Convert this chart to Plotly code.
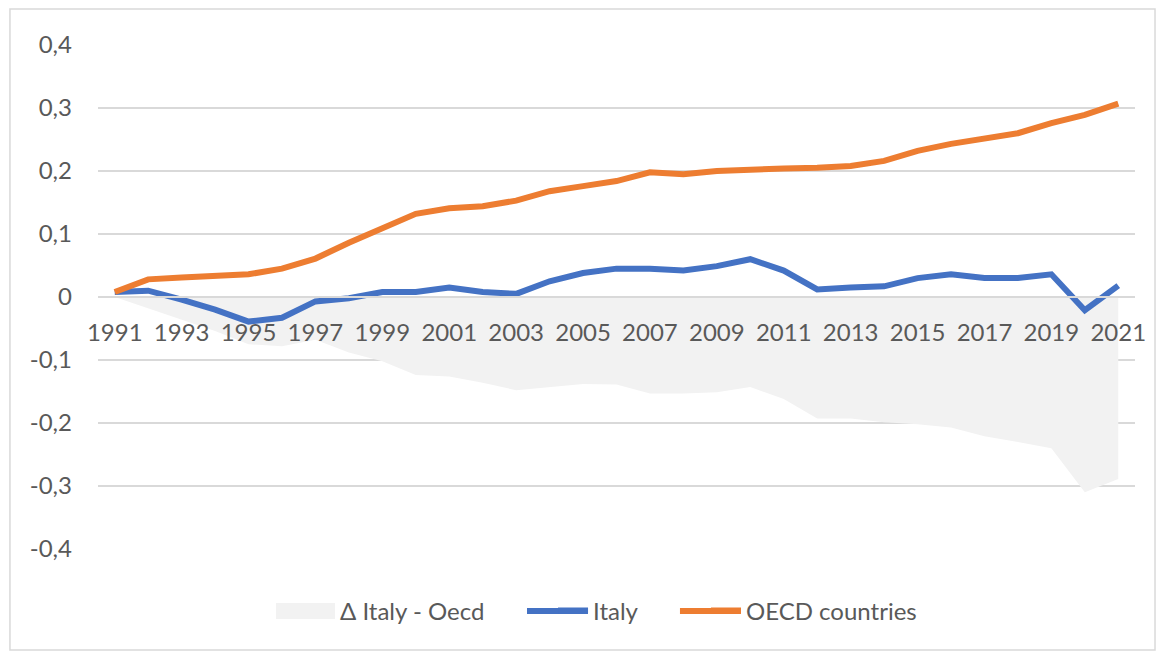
import plotly.graph_objects as go

years = [str(y) for y in range(1991, 2022)]

italy = [0.008, 0.010, -0.004, -0.020, -0.039, -0.033, -0.007, -0.002, 0.008, 0.008,
         0.015, 0.008, 0.005, 0.025, 0.038, 0.045, 0.045, 0.042, 0.049, 0.060,
         0.042, 0.012, 0.015, 0.017, 0.030, 0.036, 0.030, 0.030, 0.036, -0.021,
         0.018]

oecd = [0.008, 0.028, 0.031, 0.034, 0.036, 0.045, 0.061, 0.086, 0.110, 0.132,
        0.141, 0.144, 0.153, 0.168, 0.176, 0.184, 0.198, 0.195, 0.200, 0.203,
        0.204, 0.205, 0.208, 0.216, 0.232, 0.243, 0.251, 0.260, 0.276, 0.289,
        0.307]

delta = [0.000, -0.018, -0.035, -0.054, -0.075, -0.078, -0.068, -0.088, -0.102, -0.124,
         -0.126, -0.136, -0.148, -0.143, -0.138, -0.139, -0.153, -0.153, -0.151, -0.143,
         -0.162, -0.193, -0.193, -0.199, -0.202, -0.207, -0.221, -0.230, -0.240, -0.310,
         -0.289]

y_tickvals = [-0.4, -0.3, -0.2, -0.1, 0, 0.1, 0.2, 0.3, 0.4]
y_ticktext = ["-0,4", "-0,3", "-0,2", "-0,1", "0", "0,1", "0,2", "0,3", "0,4"]
x_tickvals = years[::2]

FONT = "Lato"
FS = 24
GREY_TXT = "#595959"
GRID = "#D9D9D9"
C_AREA = "#F2F2F2"
C_ITA = "#4472C4"
C_OECD = "#ED7D31"

fig = go.Figure()
fig.add_trace(go.Scatter(
    x=years, y=delta, name="Δ Italy - Oecd", mode="lines",
    line=dict(width=0, color=C_AREA), fill="tozeroy", fillcolor=C_AREA,
    legend="legend",
))
fig.add_trace(go.Scatter(
    x=years, y=italy, name="Italy", mode="lines",
    line=dict(width=6, color=C_ITA), legend="legend2",
))
fig.add_trace(go.Scatter(
    x=years, y=oecd, name="OECD countries", mode="lines",
    line=dict(width=6, color=C_OECD), legend="legend3",
))

LEG_Y = -0.123

def leg(x):
    return dict(orientation="h", x=x, xanchor="left", y=LEG_Y, yanchor="middle",
                font=dict(family=FONT, size=FS, color=GREY_TXT),
                bgcolor="rgba(0,0,0,0)", itemwidth=30)

shapes = [
    # chart border
    dict(type="rect", xref="paper", yref="paper",
         x0=-0.0849, x1=1.0193, y0=-0.2004, y1=1.0714,
         line=dict(color=GRID, width=1.5), fillcolor="rgba(0,0,0,0)", layer="below"),
    # longer legend swatches (Excel style)
    dict(type="rect", xref="paper", yref="paper",
         x0=0.1716, x1=0.2285, y0=-0.1389, y1=-0.1071,
         line=dict(width=0), fillcolor=C_AREA),
    dict(type="line", xref="paper", yref="paper",
         x0=0.4137, x1=0.4725, y0=LEG_Y, y1=LEG_Y,
         line=dict(color=C_ITA, width=6)),
    dict(type="line", xref="paper", yref="paper",
         x0=0.5612, x1=0.6200, y0=LEG_Y, y1=LEG_Y,
         line=dict(color=C_OECD, width=6)),
]

fig.update_layout(
    width=1156, height=647,
    margin=dict(l=90, r=29, t=37, b=106),
    paper_bgcolor="white", plot_bgcolor="white",
    font=dict(family=FONT, size=FS, color=GREY_TXT),
    showlegend=True,
    legend=leg(0.1948),
    legend2=leg(0.4388),
    legend3=leg(0.5863),
    xaxis=dict(type="category", range=[-0.5, 30.5], tickmode="array",
               tickvals=x_tickvals, ticktext=x_tickvals, tickangle=0,
               showgrid=False, showline=True, linecolor=GRID, linewidth=1.5,
               ticks="", anchor="free", position=0.5, zeroline=False,
               ticklabelstandoff=14,
               tickfont=dict(family=FONT, size=FS, color=GREY_TXT)),
    yaxis=dict(range=[-0.4, 0.4], tickmode="array", tickvals=y_tickvals,
               ticktext=y_ticktext, showgrid=True, gridcolor=GRID, gridwidth=1.5,
               zeroline=False, showline=False, ticks="", ticklabelstandoff=25,
               tickfont=dict(family=FONT, size=FS, color=GREY_TXT)),
    shapes=shapes,
)

fig.write_html("out.html")
